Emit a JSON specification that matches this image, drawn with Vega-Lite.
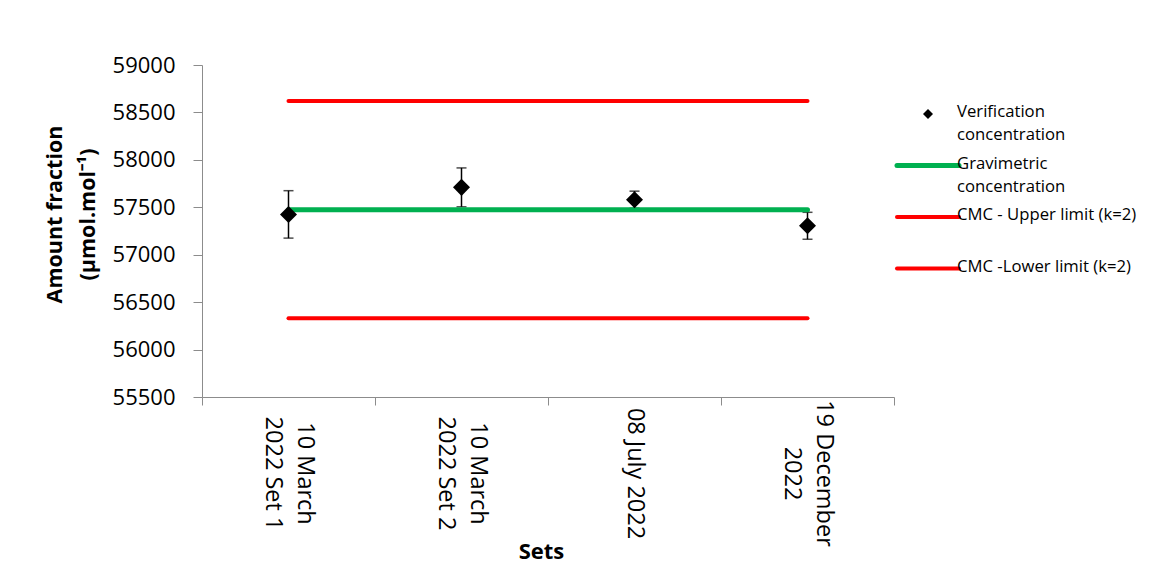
{
  "$schema": "https://vega.github.io/schema/vega-lite/v6.json",
  "width": 692,
  "height": 332,
  "autosize": {"type": "none"},
  "padding": {"left": 202, "top": 65, "right": 277, "bottom": 176},
  "background": "white",
  "config": {
    "view": {"stroke": null},
    "font": "Open Sans",
    "axis": {"grid": false, "domainColor": "#8c8c8c", "tickColor": "#8c8c8c", "labelColor": "black", "titleColor": "black"}
  },
  "datasets": {
    "verification": [
      {"set": "10 March|2022 Set 1", "series": "Verification concentration", "value": 57425, "lo": 57175, "hi": 57675},
      {"set": "10 March|2022 Set 2", "series": "Verification concentration", "value": 57710, "lo": 57505, "hi": 57915},
      {"set": "08 July 2022", "series": "Verification concentration", "value": 57580, "lo": 57490, "hi": 57670},
      {"set": "19 December|2022", "series": "Verification concentration", "value": 57305, "lo": 57163, "hi": 57447}
    ],
    "gravimetric": [
      {"set": "10 March|2022 Set 1", "series": "Gravimetric concentration", "value": 57475},
      {"set": "10 March|2022 Set 2", "series": "Gravimetric concentration", "value": 57475},
      {"set": "08 July 2022", "series": "Gravimetric concentration", "value": 57475},
      {"set": "19 December|2022", "series": "Gravimetric concentration", "value": 57475}
    ],
    "limits": [
      {"set": "10 March|2022 Set 1", "series": "CMC - Upper limit (k=2)", "value": 58620},
      {"set": "10 March|2022 Set 2", "series": "CMC - Upper limit (k=2)", "value": 58620},
      {"set": "08 July 2022", "series": "CMC - Upper limit (k=2)", "value": 58620},
      {"set": "19 December|2022", "series": "CMC - Upper limit (k=2)", "value": 58620},
      {"set": "10 March|2022 Set 1", "series": "CMC -Lower limit (k=2)", "value": 56330},
      {"set": "10 March|2022 Set 2", "series": "CMC -Lower limit (k=2)", "value": 56330},
      {"set": "08 July 2022", "series": "CMC -Lower limit (k=2)", "value": 56330},
      {"set": "19 December|2022", "series": "CMC -Lower limit (k=2)", "value": 56330}
    ]
  },
  "encoding": {
    "x": {
      "field": "set",
      "type": "nominal",
      "sort": ["10 March|2022 Set 1", "10 March|2022 Set 2", "08 July 2022", "19 December|2022"],
      "scale": {"type": "band", "paddingInner": 0, "paddingOuter": 0},
      "axis": {
        "title": "Sets",
        "titleFontSize": 22,
        "titleFontWeight": "bold",
        "titleX": 339,
        "titleY": 154,
        "titleBaseline": "middle",
        "labelExpr": "isValid(datum.value) ? split(datum.value, '|') : ''",
        "labelAngle": 90,
        "labelAlign": "center",
        "labelBaseline": "middle",
        "labelFontSize": 23.5,
        "labelLineHeight": 32,
        "labelPadding": 68,
        "labelLimit": 300,
        "labelOffset": {"condition": {"test": "isValid(datum.value) && indexof(datum.value, '|') >= 0", "value": 16}, "value": 0},
        "tickSize": 8,
        "tickBand": "extent"
      }
    },
    "y": {
      "field": "value",
      "type": "quantitative",
      "scale": {"domain": [55500, 59000], "zero": false, "nice": false},
      "axis": {
        "title": ["Amount fraction", "(µmol.mol⁻¹)"],
        "titleFontSize": 21.5,
        "titleFontWeight": "bold",
        "titleLineHeight": 33,
        "titleAngle": -90,
        "titleAlign": "center",
        "titleBaseline": "middle",
        "titleX": -147,
        "titleY": 149,
        "values": [55500, 56000, 56500, 57000, 57500, 58000, 58500, 59000],
        "format": "d",
        "labelFontSize": 22,
        "labelPadding": 18,
        "tickSize": 9,
        "labelFlush": false
      }
    },
    "color": {
      "field": "series",
      "type": "nominal",
      "scale": {
        "domain": ["Verification concentration", "Gravimetric concentration", "CMC - Upper limit (k=2)", "CMC -Lower limit (k=2)"],
        "range": ["black", "#00B050", "#FF0000", "#FF0000"]
      },
      "legend": {
        "title": null,
        "orient": "none",
        "legendX": 695,
        "legendY": 37,
        "padding": 0,
        "symbolSize": 3844,
        "symbolType": "stroke",
        "labelFontSize": 16.7,
        "labelOffset": 0,
        "labelLimit": 300,
        "rowPadding": 9.5,
        "labelExpr": "datum.label == 'Verification concentration' ? ['Verification', 'concentration'] : datum.label == 'Gravimetric concentration' ? ['Gravimetric', 'concentration'] : [datum.label, ' ']",
        "encode": {
          "symbols": {
            "update": {
              "x": {"value": 31},
              "y": {"value": 12},
              "shape": {"signal": "datum.value == 'Verification concentration' ? 'diamond' : 'stroke'"},
              "size": {"signal": "datum.value == 'Verification concentration' ? 100 : 3844"},
              "strokeWidth": {"signal": "datum.value == 'Verification concentration' ? 0 : datum.value == 'Gravimetric concentration' ? 5 : 4"},
              "fill": {"signal": "datum.value == 'Verification concentration' ? 'black' : 'transparent'"},
              "stroke": {"signal": "datum.value == 'Verification concentration' ? 'black' : datum.value == 'Gravimetric concentration' ? '#00B050' : '#FF0000'"},
              "strokeCap": {"value": "round"},
              "opacity": {"value": 1}
            }
          },
          "labels": {
            "update": {
              "x": {"value": 60},
              "y": {"value": 12},
              "lineHeight": {"value": 23},
              "baseline": {"value": "top"},
              "dy": {"value": -10}
            }
          }
        }
      }
    }
  },
  "layer": [
    {
      "data": {"name": "verification"},
      "mark": {"type": "errorbar", "ticks": {"size": 10, "thickness": 1.5, "color": "black"}, "rule": {"strokeWidth": 1.5, "color": "black"}},
      "encoding": {
        "y": {"field": "lo", "type": "quantitative"},
        "y2": {"field": "hi"},
        "color": {"value": "black"}
      }
    },
    {
      "data": {"name": "limits"},
      "mark": {"type": "line", "strokeWidth": 4, "strokeCap": "round"},
      "encoding": {"detail": {"field": "series"}}
    },
    {
      "data": {"name": "gravimetric"},
      "mark": {"type": "line", "strokeWidth": 5, "strokeCap": "round"},
      "encoding": {}
    },
    {
      "data": {"name": "verification"},
      "mark": {"type": "point", "shape": "diamond", "size": 290, "filled": true, "opacity": 1},
      "encoding": {}
    }
  ]
}
